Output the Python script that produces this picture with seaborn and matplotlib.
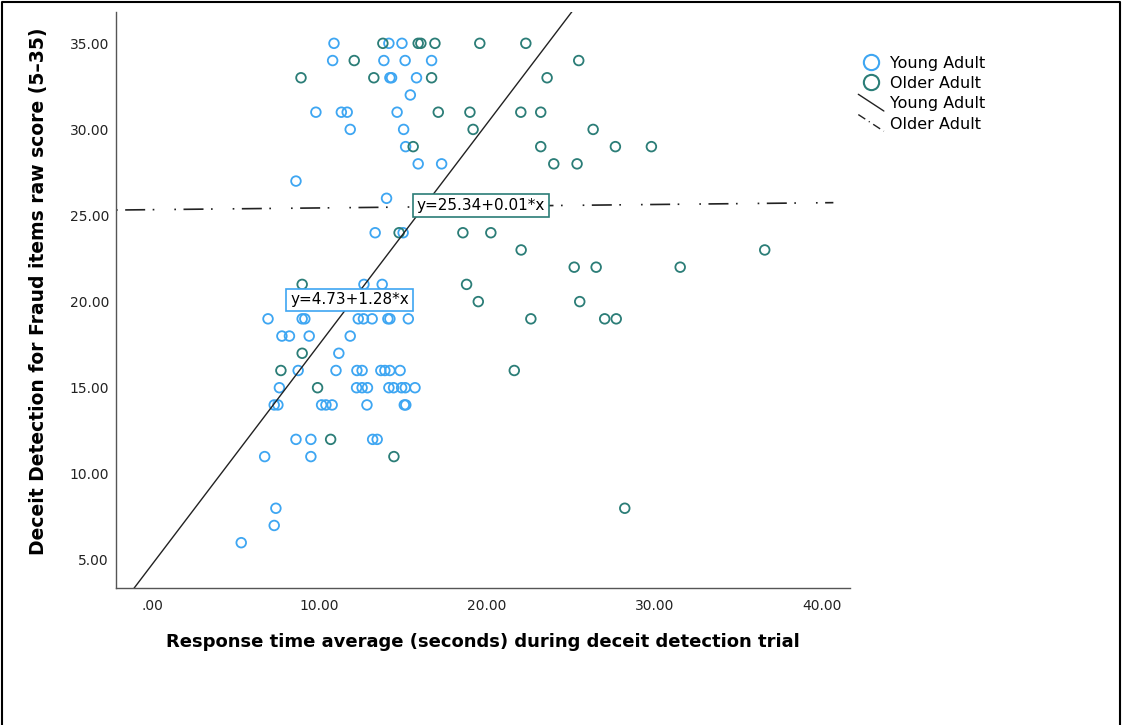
import numpy as np
import pandas as pd
import matplotlib
matplotlib.use("Agg")
import matplotlib.pyplot as plt
import matplotlib.ticker as mticker
from matplotlib.lines import Line2D
from matplotlib.legend_handler import HandlerLine2D
import seaborn as sns

# %% Datos

young_x = [10.87, 14.15, 14.93,
           10.79, 13.85, 15.12, 16.70,
           14.21, 14.31, 15.80,
           15.43,
           9.79, 11.31, 11.66, 14.64,
           11.84, 15.03,
           15.15,
           15.90, 17.30,
           8.60,
           14.01,
           13.33, 15.00,
           12.66, 13.75,
           6.93, 8.97, 9.13, 12.32, 12.63, 13.15, 14.09, 14.21, 15.31,
           7.76, 8.21, 9.39, 11.84,
           11.16,
           8.73, 10.99, 12.24, 12.55, 13.67, 13.91, 14.21, 14.82,
           7.61, 12.22, 12.55, 12.87, 14.15, 14.43, 14.91, 15.13, 15.71,
           7.30, 7.52, 10.13, 10.39, 10.76, 12.84, 15.07, 15.16,
           8.60, 9.49, 13.18, 13.45,
           6.73, 9.49,
           7.40,
           7.30,
           5.33]
young_y = [35, 35, 35,
           34, 34, 34, 34,
           33, 33, 33,
           32,
           31, 31, 31, 31,
           30, 30,
           29,
           28, 28,
           27,
           26,
           24, 24,
           21, 21,
           19, 19, 19, 19, 19, 19, 19, 19, 19,
           18, 18, 18, 18,
           17,
           16, 16, 16, 16, 16, 16, 16, 16,
           15, 15, 15, 15, 15, 15, 15, 15, 15,
           14, 14, 14, 14, 14, 14, 14, 14,
           12, 12, 12, 12,
           11, 11,
           8,
           7,
           6]

older_x = [13.79, 15.90, 16.06, 16.90, 19.58, 22.33,
           12.08, 25.49,
           8.90, 13.25, 16.70, 23.60,
           17.10, 18.99, 22.03, 23.22,
           19.18, 26.35,
           15.60, 23.22, 27.68, 29.83,
           24.00, 25.39,
           14.76, 18.57, 20.24,
           22.05, 36.60,
           25.22, 26.53, 31.55,
           8.97, 18.79,
           19.49, 25.55,
           22.63, 27.04, 27.73,
           8.97,
           7.70, 21.64,
           9.89,
           10.67,
           14.45,
           28.24]
older_y = [35, 35, 35, 35, 35, 35,
           34, 34,
           33, 33, 33, 33,
           31, 31, 31, 31,
           30, 30,
           29, 29, 29, 29,
           28, 28,
           24, 24, 24,
           23, 23,
           22, 22, 22,
           21, 21,
           20, 20,
           19, 19, 19,
           17,
           16, 16,
           15,
           12,
           11,
           8]

grupos = ["Young Adult", "Older Adult"]
colores = ["#3ea6f2", "#2b7d77"]

# ajustes lineales informados en el grafico (intercepto, pendiente)
fit_young = (4.73, 1.28)
fit_older = (25.34, 0.01)

x_ticks = [0, 10, 20, 30, 40]
y_ticks = [5, 10, 15, 20, 25, 30, 35]

# %% Armado del dataframe
df = pd.concat([
    pd.DataFrame({"rt": young_x, "score": young_y, "grupo": grupos[0]}),
    pd.DataFrame({"rt": older_x, "score": older_y, "grupo": grupos[1]}),
], ignore_index=True)

sns.set_style("white")
plt.rcParams["font.family"] = ["DejaVu Sans"]
plt.rcParams["text.color"] = "black"

fig = plt.figure(figsize=(11.23, 7.25), dpi=100)
ax = fig.add_axes([0.1033, 0.189, 0.6537, 0.794])

sns.scatterplot(data=df, x="rt", y="score", hue="grupo", hue_order=grupos,
                palette=colores, s=48, linewidth=1.3, legend=False, ax=ax)

# circulos huecos: pasamos el color de relleno al borde
puntos = ax.collections[0]
puntos.set_edgecolors(puntos.get_facecolors())
puntos.set_facecolors("none")

xlim = (-2.15, 41.7)
ylim = (3.37, 36.8)
ax.set_xlim(xlim)
ax.set_ylim(ylim)

# lineas de ajuste
xs = np.array(xlim)
ax.plot(xs, fit_young[0] + fit_young[1] * xs, color="#222222", lw=1.0)
xs_o = np.array([xlim[0], 40.7])
ax.plot(xs_o, fit_older[0] + fit_older[1] * xs_o, color="#222222", lw=1.2,
        dashes=(1, 4.5, 12, 4.5, 1, 12))

# etiquetas de las ecuaciones
ax.text(19.64, 25.6, "y=25.34+0.01*x", fontsize=11, ha="center", va="center",
        bbox=dict(boxstyle="square,pad=0.25", fc="white", ec=colores[1], lw=1.2))
ax.text(11.79, 20.1, "y=4.73+1.28*x", fontsize=11, ha="center", va="center",
        bbox=dict(boxstyle="square,pad=0.25", fc="white", ec=colores[0], lw=1.2))

# ejes
for lado in ["top", "right"]:
    ax.spines[lado].set_visible(False)
for lado in ["left", "bottom"]:
    ax.spines[lado].set_color("#555555")
    ax.spines[lado].set_linewidth(1.0)

ax.set_xticks(x_ticks)
ax.set_yticks(y_ticks)
ax.xaxis.set_major_formatter(mticker.FuncFormatter(lambda v, p: f"{v:.2f}".lstrip("0") if v == 0 else f"{v:.2f}"))
ax.yaxis.set_major_formatter(mticker.FuncFormatter(lambda v, p: f"{v:.2f}"))
ax.tick_params(axis="both", length=0, labelsize=10, colors="#222222")
ax.tick_params(axis="x", pad=8)
ax.tick_params(axis="y", pad=5)

ax.set_xlabel("Response time average (seconds) during deceit detection trial",
              fontsize=13, fontweight="bold", labelpad=14, color="black")
ax.set_ylabel("Deceit Detection for Fraud items raw score (5\u201335)",
              fontsize=13.5, fontweight="bold", color="black")
ax.yaxis.set_label_coords(-0.092, 0.515)


# leyenda con lineas en diagonal como en SPSS
class HandlerDiagonal(HandlerLine2D):
    def create_artists(self, legend, orig_handle, xdescent, ydescent,
                       width, height, fontsize, trans):
        linea = Line2D([-xdescent, -xdescent + width],
                       [height - ydescent + 2, -ydescent - 2])
        self.update_prop(linea, orig_handle, legend)
        linea.set_transform(trans)
        return [linea]


handles = [
    Line2D([], [], marker="o", ls="none", mfc="none", mec=colores[0], mew=1.5, ms=11),
    Line2D([], [], marker="o", ls="none", mfc="none", mec=colores[1], mew=1.5, ms=11),
    Line2D([], [], color="#222222", lw=1.0),
    Line2D([], [], color="#222222", lw=1.0, dashes=(6, 3, 0.8, 3)),
]
leg = fig.legend(handles, ["Young Adult", "Older Adult", "Young Adult", "Older Adult"],
                 loc="upper left", bbox_to_anchor=(0.7515, 0.943), frameon=False,
                 fontsize=11.5, handlelength=1.6, handletextpad=0.4, labelspacing=0.33,
                 handler_map={handles[2]: HandlerDiagonal(), handles[3]: HandlerDiagonal()})

# marco exterior de la imagen
fig.add_artist(Line2D([0.002, 0.002, 0.997, 0.997], [0.0, 0.997, 0.997, 0.0],
                      transform=fig.transFigure, color="black", lw=1.5))

fig.savefig("out.png", dpi=100)
